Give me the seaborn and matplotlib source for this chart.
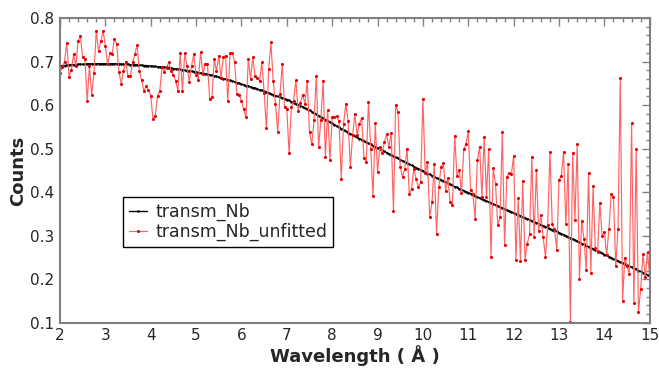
import numpy as np
import pandas as pd
import seaborn as sns
import matplotlib.pyplot as plt
from matplotlib.ticker import MultipleLocator

# fitted transmission curve, one value every 0.05 A from 2 to 15
transm_nb = [
    0.690, 0.691, 0.691, 0.692, 0.692, 0.693, 0.693, 0.693, 0.694, 0.694,
    0.694, 0.694, 0.695, 0.695, 0.695, 0.695, 0.695, 0.695, 0.695, 0.695,
    0.695, 0.695, 0.695, 0.695, 0.695, 0.695, 0.695, 0.694, 0.694, 0.694,
    0.694, 0.693, 0.693, 0.693, 0.692, 0.692, 0.692, 0.691, 0.691, 0.690,
    0.690, 0.689, 0.689, 0.688, 0.688, 0.687, 0.687, 0.686, 0.685, 0.685,
    0.684, 0.683, 0.683, 0.682, 0.681, 0.680, 0.679, 0.679, 0.678, 0.677,
    0.676, 0.675, 0.674, 0.673, 0.672, 0.671, 0.670, 0.669, 0.667, 0.666,
    0.664, 0.663, 0.661, 0.660, 0.658, 0.657, 0.655, 0.654, 0.652, 0.650,
    0.648, 0.647, 0.645, 0.644, 0.642, 0.640, 0.639, 0.637, 0.635, 0.634,
    0.632, 0.630, 0.628, 0.626, 0.624, 0.622, 0.620, 0.619, 0.617, 0.615,
    0.613, 0.611, 0.608, 0.606, 0.603, 0.601, 0.598, 0.596, 0.593, 0.591,
    0.588, 0.585, 0.582, 0.579, 0.576, 0.573, 0.570, 0.567, 0.564, 0.561,
    0.558, 0.555, 0.552, 0.549, 0.546, 0.543, 0.540, 0.537, 0.534, 0.532,
    0.529, 0.526, 0.523, 0.521, 0.518, 0.515, 0.512, 0.510, 0.507, 0.504,
    0.502, 0.499, 0.496, 0.494, 0.491, 0.488, 0.486, 0.483, 0.480, 0.478,
    0.475, 0.472, 0.470, 0.467, 0.464, 0.462, 0.459, 0.456, 0.454, 0.451,
    0.449, 0.446, 0.443, 0.441, 0.438, 0.436, 0.433, 0.431, 0.428, 0.426,
    0.423, 0.421, 0.418, 0.416, 0.413, 0.411, 0.408, 0.406, 0.404, 0.401,
    0.399, 0.397, 0.394, 0.392, 0.389, 0.387, 0.385, 0.382, 0.380, 0.378,
    0.375, 0.373, 0.371, 0.368, 0.366, 0.364, 0.361, 0.359, 0.357, 0.355,
    0.352, 0.350, 0.348, 0.346, 0.343, 0.341, 0.339, 0.337, 0.334, 0.332,
    0.330, 0.328, 0.325, 0.323, 0.321, 0.319, 0.316, 0.314, 0.312, 0.310,
    0.307, 0.305, 0.302, 0.300, 0.297, 0.295, 0.292, 0.290, 0.287, 0.285,
    0.282, 0.280, 0.277, 0.275, 0.272, 0.270, 0.267, 0.265, 0.262, 0.260,
    0.257, 0.255, 0.252, 0.250, 0.247, 0.245, 0.242, 0.240, 0.237, 0.235,
    0.232, 0.230, 0.228, 0.225, 0.223, 0.220, 0.218, 0.215, 0.213, 0.210,
    0.208,
]

# measured (unfitted) transmission, same grid
transm_nb_unfitted = [
    0.675, 0.687, 0.700, 0.743, 0.665, 0.680, 0.717, 0.690, 0.748, 0.758,
    0.710, 0.706, 0.610, 0.690, 0.623, 0.675, 0.770, 0.725, 0.748, 0.770,
    0.737, 0.694, 0.720, 0.717, 0.752, 0.740, 0.677, 0.649, 0.678, 0.700,
    0.666, 0.666, 0.698, 0.717, 0.738, 0.678, 0.657, 0.632, 0.644, 0.634,
    0.622, 0.569, 0.576, 0.622, 0.633, 0.687, 0.677, 0.687, 0.698, 0.678,
    0.669, 0.656, 0.633, 0.720, 0.633, 0.720, 0.690, 0.654, 0.690, 0.717,
    0.669, 0.658, 0.722, 0.671, 0.695, 0.695, 0.614, 0.618, 0.706, 0.678,
    0.714, 0.663, 0.710, 0.714, 0.609, 0.720, 0.720, 0.698, 0.626, 0.624,
    0.610, 0.591, 0.572, 0.706, 0.660, 0.710, 0.666, 0.662, 0.656, 0.698,
    0.629, 0.547, 0.682, 0.744, 0.656, 0.603, 0.538, 0.626, 0.695, 0.595,
    0.591, 0.489, 0.595, 0.610, 0.657, 0.587, 0.606, 0.623, 0.603, 0.656,
    0.538, 0.510, 0.565, 0.668, 0.503, 0.565, 0.656, 0.480,
    0.589, 0.473, 0.572, 0.572, 0.574, 0.564, 0.431, 0.557, 0.603, 0.564,
    0.457,
    0.531, 0.580, 0.531, 0.557, 0.571, 0.479, 0.469, 0.607, 0.500, 0.391,
    0.559, 0.446, 0.505, 0.490, 0.515, 0.533, 0.504, 0.536, 0.357, 0.601,
    0.584, 0.459, 0.435, 0.454, 0.500, 0.395, 0.408, 0.454, 0.431, 0.412,
    0.423, 0.615, 0.444, 0.469, 0.343, 0.377, 0.466, 0.305, 0.412, 0.459,
    0.467, 0.404, 0.433,
    0.377, 0.371, 0.530, 0.438, 0.451, 0.398, 0.499, 0.511, 0.540, 0.406,
    0.397, 0.339, 0.473, 0.505, 0.389, 0.527, 0.389, 0.499, 0.252, 0.456,
    0.419, 0.324, 0.343, 0.538, 0.278, 0.436, 0.444, 0.442, 0.484, 0.245,
    0.387, 0.242, 0.425, 0.245, 0.282, 0.303, 0.480, 0.297, 0.450, 0.312,
    0.347, 0.297, 0.252,
    0.324, 0.492, 0.326, 0.316, 0.268, 0.429, 0.437, 0.492, 0.326, 0.464,
    0.103, 0.490, 0.337, 0.510, 0.200, 0.334, 0.293, 0.222, 0.444, 0.215,
    0.414, 0.271, 0.263, 0.376, 0.300, 0.308, 0.255, 0.316, 0.397, 0.388,
    0.230, 0.316, 0.663, 0.151, 0.250, 0.230, 0.213, 0.558, 0.145, 0.500,
    0.126, 0.177, 0.259, 0.206, 0.262, 0.205,
]

wl_fit = np.linspace(2, 15, len(transm_nb))
wl_raw = np.linspace(2, 15, len(transm_nb_unfitted))

df_fit = pd.DataFrame({'wl': wl_fit, 'counts': transm_nb})
df_raw = pd.DataFrame({'wl': wl_raw, 'counts': transm_nb_unfitted})

sns.set_style('white')
plt.rcParams['font.family'] = ['DejaVu Sans']

fig = plt.figure(figsize=(6.59, 3.69), dpi=100)
ax = fig.add_axes([0.091, 0.125, 0.895, 0.826])

sns.lineplot(data=df_fit, x='wl', y='counts', ax=ax, color='black',
             linewidth=1.0, marker='o', markersize=1.8, markeredgewidth=0,
             label='transm_Nb')
sns.lineplot(data=df_raw, x='wl', y='counts', ax=ax, color='#ff6464',
             linewidth=0.85, marker='o', markersize=2.2, markeredgewidth=0,
             markerfacecolor='#e00000', label='transm_Nb_unfitted')

ax.set_xlim(2, 15)
ax.set_ylim(0.1, 0.8)
ax.xaxis.set_major_locator(MultipleLocator(1))
ax.xaxis.set_minor_locator(MultipleLocator(0.2))
ax.yaxis.set_major_locator(MultipleLocator(0.1))
ax.yaxis.set_minor_locator(MultipleLocator(0.02))
ax.tick_params(which='both', direction='in', top=True, right=True,
               color='#808080', labelsize=11, pad=4)
ax.tick_params(which='major', length=6, width=1)
ax.tick_params(which='minor', length=3, width=1)

for sp in ax.spines.values():
    sp.set_color('#808080')
    sp.set_linewidth(1.5)

ax.set_xlabel('Wavelength ( Å )', fontsize=13, fontweight='bold', labelpad=1)
ax.set_ylabel('Counts', fontsize=13, fontweight='bold', labelpad=2)

leg = ax.legend(loc='upper left', bbox_to_anchor=(0.107, 0.413),
                borderaxespad=0, fontsize=12.5, handlelength=1.0,
                handletextpad=0.5, fancybox=False, framealpha=1,
                borderpad=0.35, labelspacing=0.1)
leg.get_frame().set_edgecolor('black')
leg.get_frame().set_linewidth(1.0)

fig.savefig('out.png', dpi=100)
